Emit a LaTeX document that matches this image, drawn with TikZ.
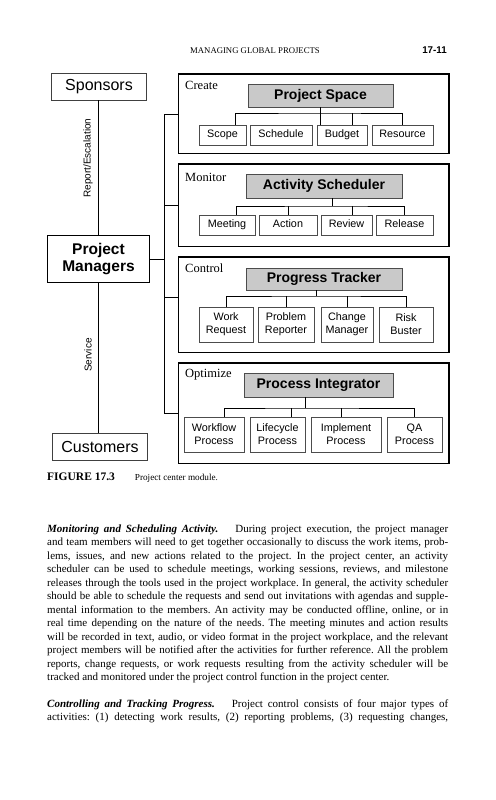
\documentclass[tikz,border=0pt]{standalone}
\usepackage{fontspec}
\setmainfont{Liberation Serif}
\newfontfamily\arialfont{Liberation Sans}
\usetikzlibrary{positioning}
\begin{document}
\begin{tikzpicture}[x=1pt, y=-1pt,
  actor/.style={draw=black!75, line width=0.6pt, inner sep=0pt,
    minimum width=95pt, minimum height=27pt,
    font=\arialfont\fontsize{16}{18}\selectfont},
  lead/.style={draw, line width=1.6pt, inner sep=0pt, align=center,
    minimum width=102pt, minimum height=47pt,
    font=\arialfont\bfseries\fontsize{15.5}{17.5}\selectfont},
  panel/.style={draw, line width=0.8pt, inner sep=0pt, anchor=north west,
    minimum width=270pt},
  rim/.style={line width=1.6pt},
  tool/.style={draw=black!70, fill=gray!42, line width=0.6pt, inner sep=0pt,
    font=\arialfont\bfseries\fontsize{14}{16}\selectfont},
  part/.style={draw=black!70, line width=0.6pt, inner sep=0pt, align=center,
    font=\arialfont\fontsize{10.8}{12.8}\selectfont},
  onepart/.style={part, minimum height=20pt, text height=8pt, text depth=2.3pt},
  twopart/.style={part, minimum height=35pt},
  tag/.style={anchor=base west, inner sep=0pt, font=\fontsize{12.5}{14}\selectfont},
  side/.style={rotate=90, inner sep=0pt, font=\arialfont\fontsize{10}{12}\selectfont},
  link/.style={line width=0.5pt},
  body/.style={anchor=base west, inner sep=0pt,
    font=\fontsize{11}{13.45}\selectfont\frenchspacing},
]
\useasboundingbox (0,0) rectangle (495,800);

\def\lh{13.45}

% running head
\node[anchor=base, inner sep=0pt, font=\fontsize{8.7}{10}\selectfont] (runhead) at (255,53) {MANAGING GLOBAL PROJECTS};
\node[anchor=base east, inner sep=0pt, font=\arialfont\bfseries\fontsize{9.8}{11}\selectfont] (folio) at (447,54) {17-11};

% left column: who talks to the project managers
\node[actor] (sponsors) at (99,86.5) {Sponsors};
\node[lead] (pm) at (98.5,259) {Project\\Managers};
\node[actor] (customers) at (100,446.5) {Customers};

\draw[link] (pm.north) -- (pm.north |- sponsors.south);
\draw[link] (pm.south) -- (pm.south |- customers.north);
\node[side] (escalation) at (88,158) {Report/Escalation};
\node[side] (service) at (88,355) {Service};

% the four panels
\node[panel, minimum height=79pt]  (create)   at (178,74)  {};
\node[panel, minimum height=82pt]  (monitor)  at (178,164) {};
\node[panel, minimum height=95pt]  (control)  at (178,257) {};
\node[panel, minimum height=100pt] (optimize) at (178,363) {};
\foreach \p in {create,monitor,control,optimize}
  \draw[rim] (\p.north west) -- (\p.north east) -- (\p.south east);

\node[tag] (createtag)   at (185,89.5) {Create};
\node[tag] (monitortag)  at (185,181)  {Monitor};
\node[tag] (controltag)  at (185,272)  {Control};
\node[tag] (optimizetag) at (185,377)  {Optimize};

% bracket from the project managers to the panels
\draw[link] (create.west) -- ++(-14,0) |- (optimize.west);
\draw[link] (monitor.west) -- ++(-14,0);
\draw[link] ([yshift=7.5pt]control.west) -- +(-14,0);
\draw[link] (pm.east) -- ++(14,0);

% Create : Project Space
\node[tool, minimum width=145pt, minimum height=23pt] (space) at (320.5,95.5) {Project Space};
\node[onepart, minimum width=47pt] (scope)    at (222.5,135) {Scope};
\node[onepart, minimum width=62pt] (schedule) at (281,135)   {Schedule};
\node[onepart, minimum width=50pt] (budget)   at (342,135)   {Budget};
\node[onepart, minimum width=61pt] (resource) at (402.5,135) {Resource};
\coordinate (createbar) at (320.5,113);
\draw[link] (space.south) -- (space.south |- budget.north);
\draw[link] ([xshift=12.5pt]scope.north) |- (createbar) -| (resource.north);
\draw[link] ([xshift=10pt]budget.north) -- +(0,-12);

% Monitor : Activity Scheduler
\node[tool, minimum width=156pt, minimum height=24pt] (sched) at (324,186) {Activity Scheduler};
\node[onepart, minimum width=56pt] (meeting) at (227,225)   {Meeting};
\node[onepart, minimum width=58pt] (action)  at (288,225)   {Action};
\node[onepart, minimum width=51pt] (review)  at (346.5,225) {Review};
\node[onepart, minimum width=57pt] (release) at (404.5,225) {Release};
\coordinate (monitorbar) at (332,206);
\draw[link] ([xshift=8pt]sched.south) -- (monitorbar);
\draw[link] ([xshift=9pt]meeting.north) |- (monitorbar) -| (release.north);
\draw[link] (action.north) -- +(0,-9);
\draw[link] ([xshift=5.5pt]review.north) -- +(0,-9);

% Control : Progress Tracker
\node[tool, minimum width=156pt, minimum height=22pt] (tracker) at (324,279) {Progress Tracker};
\node[twopart, minimum width=54pt] (work)    at (226,324.5) {Work\\Request};
\node[twopart, minimum width=56pt] (problem) at (286,324.5) {Problem\\Reporter};
\node[twopart, minimum width=52pt] (change)  at (347,324.5) {Change\\Manager};
\node[twopart, minimum width=54pt] (risk)    at (406,324.5) {Risk\\Buster};
\coordinate (controlbar) at (316,296);
\draw[link] ([xshift=-8pt]tracker.south) -- (controlbar);
\draw[link] (work.north) |- (controlbar) -| (risk.north);
\draw[link] (problem.north) -- +(0,-11);
\draw[link] (change.north) -- +(0,-11);

% Optimize : Process Integrator
\node[tool, minimum width=149pt, minimum height=24pt] (integrator) at (318.5,385) {Process Integrator};
\node[twopart, minimum width=60pt] (workflow)  at (214,434.5)   {Workflow\\Process};
\node[twopart, minimum width=55pt] (lifecycle) at (277.5,434.5) {Lifecycle\\Process};
\node[twopart, minimum width=70pt] (implement) at (346,434.5)   {Implement\\Process};
\node[twopart, minimum width=55pt] (qa)        at (414.5,434.5) {QA\\Process};
\coordinate (optimizebar) at (305,408);
\draw[link] ([xshift=-13.5pt]integrator.south) -- (optimizebar);
\draw[link] ([xshift=10pt]workflow.north) |- (optimizebar) -| (qa.north);
\draw[link] ([xshift=13.5pt]lifecycle.north) -- +(0,-9);
\draw[link] ([xshift=-5pt]implement.north) -- +(0,-9);

% caption
\node[anchor=base west, inner sep=0pt, font=\fontsize{9.2}{11}\selectfont] (caption) at (47,480)
  {{\bfseries\fontsize{11.5}{13}\selectfont FIGURE 17.3}\hspace{20pt}Project center module.};

% body text, one justified line each
\foreach \txt [count=\k from 0] in {
  {\textbf{\textit{Monitoring and Scheduling Activity.}}\hspace{1.1em} During project execution, the project manager},
  {and team members will need to get together occasionally to discuss the work items, prob-},
  {lems, issues, and new actions related to the project. In the project center, an activity},
  {scheduler can be used to schedule meetings, working sessions, reviews, and milestone},
  {releases through the tools used in the project workplace. In general, the activity scheduler},
  {should be able to schedule the requests and send out invitations with agendas and supple-},
  {mental information to the members. An activity may be conducted offline, online, or in},
  {real time depending on the nature of the needs. The meeting minutes and action results},
  {will be recorded in text, audio, or video format in the project workplace, and the relevant},
  {project members will be notified after the activities for further reference. All the problem},
  {reports, change requests, or work requests resulting from the activity scheduler will be}}
  \node[body] (line\k) at (47,{532.5+\k*\lh}) {\makebox[401pt][s]{\txt}};
\node[body] (line11) at (47,{532.5+11*\lh}) {tracked and monitored under the project control function in the project center.};

\node[body] (line13) at (47,{532.5+13*\lh})
  {\makebox[401pt][s]{\textbf{\textit{Controlling and Tracking Progress.}}\hspace{1.1em} Project control consists of four major types of}};
\node[body] (line14) at (47,{532.5+14*\lh})
  {\makebox[401pt][s]{activities: (1) detecting work results, (2) reporting problems, (3) requesting changes,}};

\end{tikzpicture}
\end{document}
